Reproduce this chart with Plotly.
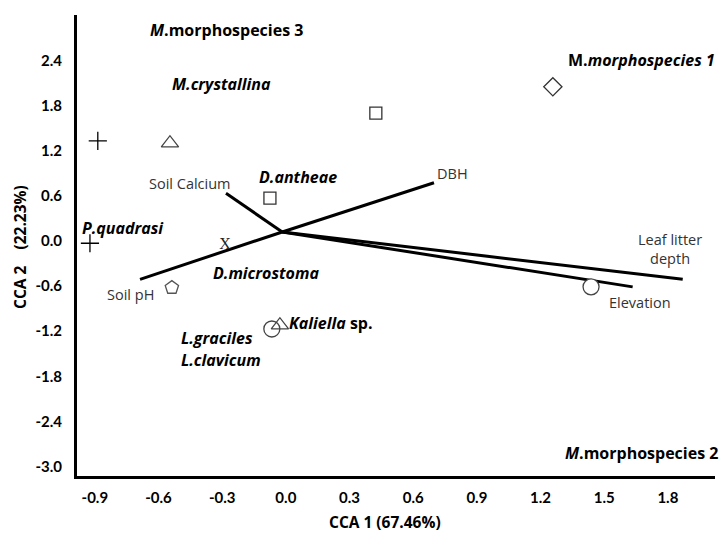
import plotly.graph_objects as go

# ---- data ----
# species scores (CCA1, CCA2)
plus_x = [-0.886, -0.923]
plus_y = [1.33, -0.03]
tri_x = [-0.546, -0.028]
tri_y = [1.30, -1.12]
sq_x = [0.424, -0.075]
sq_y = [1.70, 0.57]
dia_x = [1.258]
dia_y = [2.05]
circ_x = [-0.066, 1.438]
circ_y = [-1.17, -0.61]
house_x = [-0.537]
house_y = [-0.62]
xmark_x = [-0.287]
xmark_y = [-0.05]

# environmental vectors
vec_origin = (-0.017, 0.12)
vec_names = ["Soil Calcium", "Soil pH", "DBH", "Leaf litter depth", "Elevation"]
vec_end_x = [-0.282, -0.687, 0.698, 1.87, 1.634]
vec_end_y = [0.634, -0.51, 0.775, -0.51, -0.61]

# species labels
sp_labels = [
    "<b><i>M</i>.morphospecies 3</b>",
    "<b><i>M.crystallina</i></b>",
    "<b>M.<i>morphospecies 1</i></b>",
    "<b><i>D.antheae</i></b>",
    "<b><i>P.quadrasi</i></b>",
    "<b><i>D.microstoma</i></b>",
    "<b><i>Kaliella</i> sp.</b>",
    "<b><i>L.graciles</i></b>",
    "<b><i>L.clavicum</i></b>",
    "<b><i>M</i>.morphospecies 2</b>",
]
sp_lab_x = [-0.278, -0.301, 1.678, 0.057, -0.768, -0.094, 0.213, -0.325, -0.306, 1.678]
sp_lab_y = [2.806, 2.088, 2.407, 0.851, 0.173, -0.426, -1.09, -1.29, -1.58, -2.82]

env_labels = ["Soil Calcium", "DBH", "Soil pH", "Leaf litter<br>depth", "Elevation"]
env_lab_x = [-0.452, 0.787, -0.73, 1.81, 1.668]
env_lab_y = [0.758, 0.891, -0.718, -0.106, -0.824]

x_ticks = [-0.9, -0.6, -0.3, 0.0, 0.3, 0.6, 0.9, 1.2, 1.5, 1.8]
y_ticks = [-3.0, -2.4, -1.8, -1.2, -0.6, 0.0, 0.6, 1.2, 1.8, 2.4]
x_title = "CCA 1 (67.46%)"
y_title = "CCA 2&nbsp;&nbsp;&nbsp;&nbsp;(22.23%)"

# ---- figure ----
fig = go.Figure()

lx, ly = [], []
for ex, ey in zip(vec_end_x, vec_end_y):
    lx += [vec_origin[0], ex, None]
    ly += [vec_origin[1], ey, None]
fig.add_trace(go.Scatter(x=lx, y=ly, mode="lines",
                         line=dict(color="black", width=3), hoverinfo="skip"))

mk_line = dict(color="#444444", width=1.3)
fig.add_trace(go.Scatter(x=circ_x, y=circ_y, mode="markers",
                         marker=dict(symbol="circle", size=16, color="white",
                                     line=dict(color="#444444", width=1.3))))
fig.add_trace(go.Scatter(x=plus_x, y=plus_y, mode="markers",
                         marker=dict(symbol="cross-thin-open", size=13, color="black",
                                     line=dict(color="black", width=1.3))))
fig.add_trace(go.Scatter(x=tri_x, y=tri_y, mode="markers",
                         marker=dict(symbol="triangle-up-open", size=15, color="#444444", line=mk_line)))
fig.add_trace(go.Scatter(x=sq_x, y=sq_y, mode="markers",
                         marker=dict(symbol="square-open", size=12, color="#333333", line=mk_line)))
fig.add_trace(go.Scatter(x=dia_x, y=dia_y, mode="markers",
                         marker=dict(symbol="diamond-open", size=14, color="#333333", line=mk_line)))
fig.add_trace(go.Scatter(x=house_x, y=house_y, mode="markers",
                         marker=dict(symbol="pentagon-open", size=14, color="#555555", line=mk_line)))
fig.add_trace(go.Scatter(x=xmark_x, y=xmark_y, mode="text", text=["X"],
                         textfont=dict(family="Liberation Serif", size=16, color="#222222")))

for t, x, y in zip(sp_labels, sp_lab_x, sp_lab_y):
    fig.add_annotation(x=x, y=y, text=t, showarrow=False, xanchor="center", yanchor="middle",
                       font=dict(family="Open Sans", size=16, color="black"))
for t, x, y in zip(env_labels, env_lab_x, env_lab_y):
    fig.add_annotation(x=x, y=y, text=t, showarrow=False, xanchor="center", yanchor="middle",
                       font=dict(family="Open Sans", size=14.5, color="#333333"))

fig.add_annotation(xref="paper", yref="paper", x=(385 - 77) / 638, y=-(522 - 476) / 461,
                   text=f"<b>{x_title}</b>", showarrow=False, xanchor="center", yanchor="middle",
                   font=dict(family="Open Sans", size=15.5, color="black"))
fig.add_annotation(xref="paper", yref="paper", x=-(77 - 20) / 638, y=(476 - 247) / 461,
                   text=f"<b>{y_title}</b>", showarrow=False, textangle=-90,
                   xanchor="center", yanchor="middle",
                   font=dict(family="Open Sans", size=15.5, color="black"))

fig.update_xaxes(range=[-0.984, 2.022], tickvals=x_ticks, ticktext=[f"{v:.1f}" for v in x_ticks],
                 showgrid=False, zeroline=False, showline=True, linecolor="black", linewidth=3,
                 ticks="", ticklabelstandoff=6,
                 tickfont=dict(family="Lato", size=15, color="black", weight="bold"))
fig.update_yaxes(range=[-3.125, 3.005], tickvals=y_ticks, ticktext=[f"{v:.1f}" for v in y_ticks],
                 showgrid=False, zeroline=False, showline=True, linecolor="black", linewidth=3,
                 ticks="", ticklabelstandoff=9,
                 tickfont=dict(family="Lato", size=15, color="black", weight="bold"))

fig.update_layout(width=720, height=534, showlegend=False,
                  margin=dict(l=77, r=5, t=15, b=58),
                  plot_bgcolor="white", paper_bgcolor="white")

fig.write_html("out.html", config={"displayModeBar": False},
               post_script="document.body.style.margin='0';")
